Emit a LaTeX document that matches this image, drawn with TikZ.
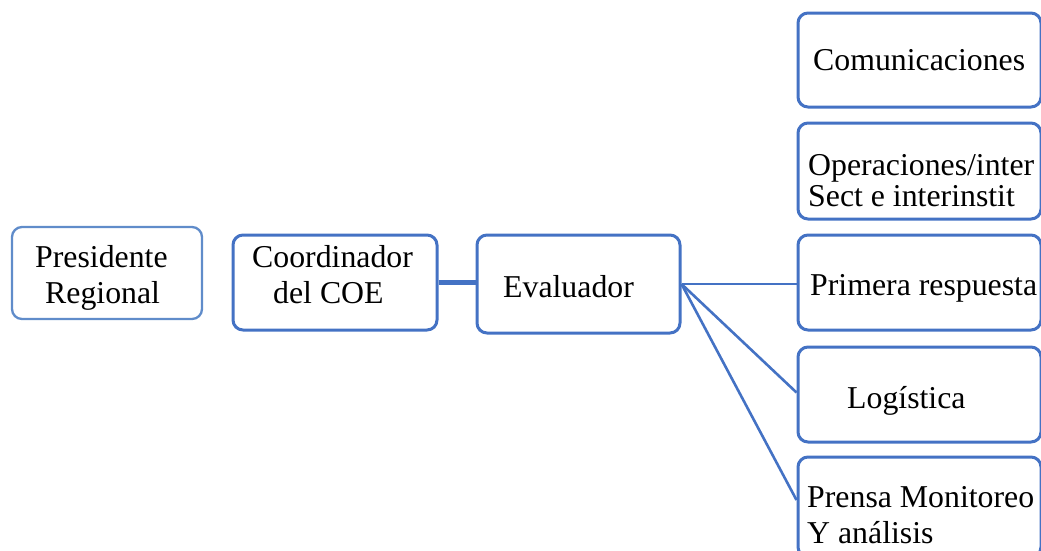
\documentclass[tikz,border=0pt]{standalone}
\usepackage{fontspec}
\setmainfont{Liberation Serif}
\definecolor{boxblue}{RGB}{68,114,196}
\definecolor{lightblue}{RGB}{96,140,202}
\begin{document}
\begin{tikzpicture}[x=1pt,y=-1pt,
  box/.style={draw=boxblue,line width=3pt,rounded corners=10pt,fill=white,inner sep=0pt},
  lbox/.style={draw=lightblue,line width=2.3pt,rounded corners=10pt,fill=white,inner sep=0pt},
  txt/.style={inner sep=0pt,anchor=base west,font=\fontsize{31.8}{36}\selectfont},
  link/.style={draw=boxblue,line width=2.6pt},
  thicklink/.style={draw=boxblue,line width=5pt}]
\useasboundingbox (0,0) rectangle (1041,550);
% left boxes
\node[lbox,minimum width=190pt,minimum height=92pt] (pres) at (107,273) {};
\node[box,minimum width=204pt,minimum height=95pt] (coord) at (335,282.5) {};
\node[box,minimum width=203pt,minimum height=98pt] (eval) at (578.5,284) {};
% right boxes
\node[box,minimum width=243pt,minimum height=94pt] (com) at (919.5,60) {};
\node[box,minimum width=243pt,minimum height=96pt] (ope) at (919.5,171) {};
\node[box,minimum width=243pt,minimum height=95pt] (pri) at (919.5,282.5) {};
\node[box,minimum width=243pt,minimum height=95pt] (log) at (919.5,394.5) {};
\node[box,minimum width=243pt,minimum height=100pt] (pre) at (919.5,507) {};
% texts
\node[txt] (tpres1) at (35,267) {Presidente};
\node[txt] (tpres2) at (45,303) {Regional};
\node[txt] (tcoord1) at (252,267) {Coordinador};
\node[txt] (tcoord2) at (273,303) {del COE};
\node[txt] (teval) at (503,297) {Evaluador};
\node[txt] (tcom) at (813,70) {Comunicaciones};
\node[txt] (tope1) at (808,175) {Operaciones/inter};
\node[txt] (tope2) at (808,206) {Sect e interinstit};
\node[txt] (tpri) at (810,295) {Primera respuesta};
\node[txt] (tlog) at (847,408) {Logística};
\node[txt] (tpre1) at (807,507) {Prensa Monitoreo};
\node[txt] (tpre2) at (807,543) {Y análisis};
% connectors
\draw[thicklink] (coord.east) -- (eval.west |- coord.east);
\draw[link] (eval.east) -- (pri.west |- eval.east);
\draw[link] (eval.east) -- ([yshift=2pt]log.west);
\draw[link] (eval.east) -- ([yshift=7pt]pre.west);
\end{tikzpicture}
\end{document}
